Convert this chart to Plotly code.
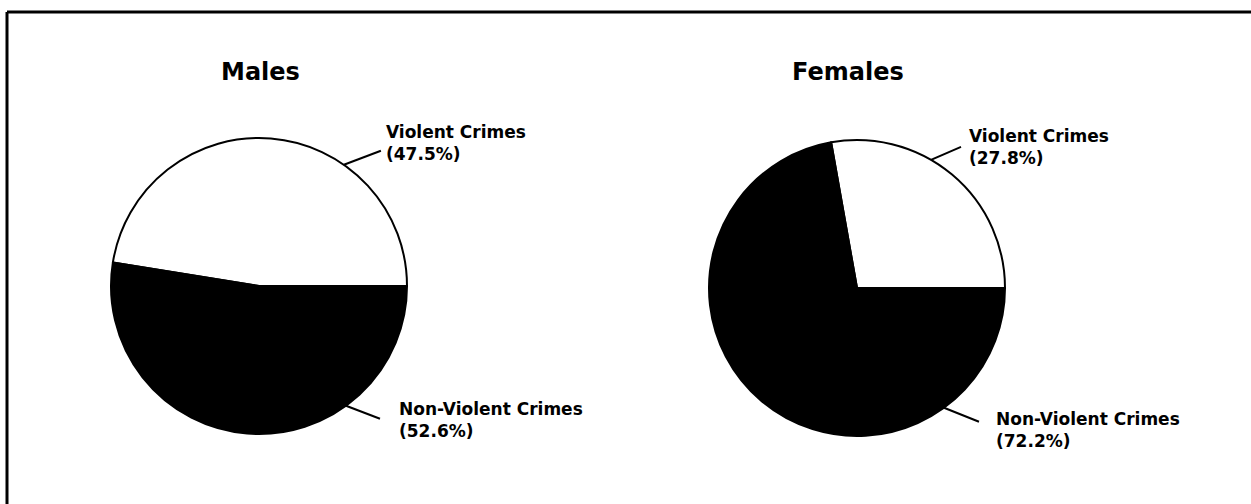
import math
import plotly.graph_objects as go

# ---- data ----
categories = ["Violent Crimes", "Non-Violent Crimes"]
males_values = [47.5, 52.6]
females_values = [27.8, 72.2]
group_titles = ["Males", "Females"]
slice_colors = ["white", "black"]

# ---- layout constants (pixels) ----
W, H = 1251, 504
R = 148
centers = [(259, 286), (857, 288)]
title_pos = [(260, 72, "center"), (790, 72, "left")]
# label block: (left x, centre y) per slice
label_pos = [[(384, 143), (397, 420)], [(967, 147), (994, 430)]]
# leader lines: (angle on circle in deg, dx, dy) per slice
leaders = [[(55, 37, -14), (-54, 34, 13)], [(60, 30, -13), (-54, 35, 14)]]

def px(x):
    return x / W

def py(y):
    return 1 - y / H

fig = go.Figure()
for (cx, cy), vals in zip(centers, [males_values, females_values]):
    # first slice starts at 3 o'clock and runs counterclockwise
    rot = 90 - 360 * vals[0] / sum(vals)
    fig.add_trace(go.Pie(
        labels=categories, values=vals, sort=False,
        direction="counterclockwise", rotation=rot,
        marker=dict(colors=slice_colors, line=dict(color="black", width=2)),
        textinfo="none", hoverinfo="label+value", showlegend=False,
        domain=dict(x=[px(cx - R), px(cx + R)], y=[py(cy + R), py(cy - R)]),
    ))

annotations = []
shapes = []
for g, vals in enumerate([males_values, females_values]):
    tx, ty, anc = title_pos[g]
    annotations.append(dict(
        text=group_titles[g], x=px(tx), y=py(ty), xref="paper", yref="paper",
        xanchor=anc, yanchor="middle", showarrow=False,
        font=dict(family="DejaVu Sans", size=24, color="black", weight="bold")))
    cx, cy = centers[g]
    for i, (cat, v) in enumerate(zip(categories, vals)):
        lx, ly = label_pos[g][i]
        annotations.append(dict(
            text=f"{cat}<br>({v}%)", x=px(lx), y=py(ly), xref="paper", yref="paper",
            xanchor="left", yanchor="middle", align="left", showarrow=False,
            font=dict(family="DejaVu Sans", size=17, color="black", weight="bold")))
        ang, dx, dy = leaders[g][i]
        sx = cx + R * math.cos(math.radians(ang))
        sy = cy - R * math.sin(math.radians(ang))
        shapes.append(dict(type="line", xref="paper", yref="paper",
                           x0=px(sx), y0=py(sy), x1=px(sx + dx), y1=py(sy + dy),
                           line=dict(color="black", width=2)))

# frame (top and left edges visible)
shapes.append(dict(type="line", xref="paper", yref="paper",
                   x0=px(7), y0=py(12), x1=px(W + 5), y1=py(12),
                   line=dict(color="black", width=3)))
shapes.append(dict(type="line", xref="paper", yref="paper",
                   x0=px(7), y0=py(12), x1=px(7), y1=py(H + 5),
                   line=dict(color="black", width=3)))

fig.update_layout(
    width=W, height=H, margin=dict(l=0, r=0, t=0, b=0),
    paper_bgcolor="white", plot_bgcolor="white",
    annotations=annotations, shapes=shapes,
)
fig.write_html("out.html", config={"displayModeBar": False},
               post_script="document.body.style.margin='0';")
